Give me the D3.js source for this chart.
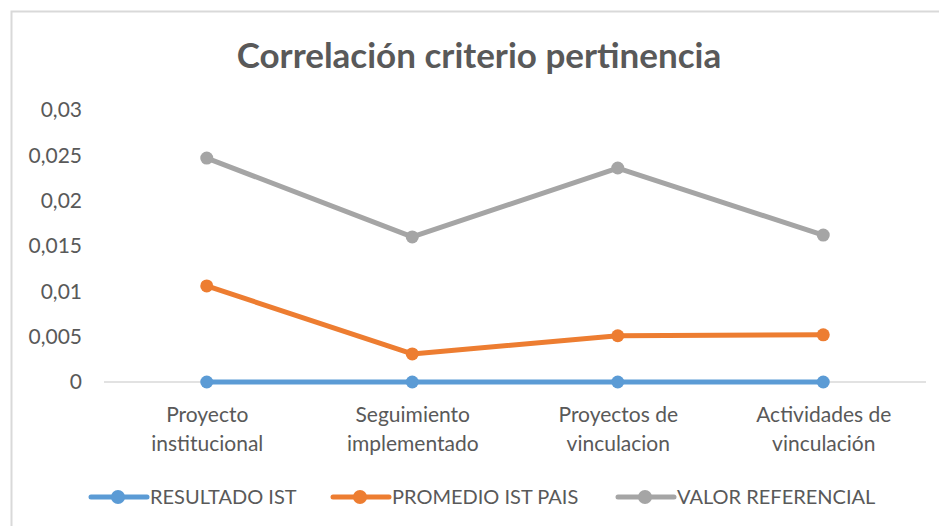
<!DOCTYPE html>
<html>
<head>
<meta charset="utf-8">
<script src="https://cdn.jsdelivr.net/npm/d3@7"></script>
<style>
 body{margin:0;background:#fff}
 text{font-family:Lato,"Open Sans",sans-serif;fill:#595959}
</style>
</head>
<body>
<div id="chart"></div>
<script>
const categories = [["Proyecto","institucional"],["Seguimiento","implementado"],["Proyectos de","vinculacion"],["Actividades de","vinculación"]]
const resultadoIst = [0,0,0,0]
const promedioIstPais = [0.0106,0.0031,0.0051,0.0052]
const valorReferencial = [0.0247,0.0160,0.0236,0.0162]
const yTicks = [0,0.005,0.01,0.015,0.02,0.025,0.03]
const seriesNames = ["RESULTADO IST","PROMEDIO IST PAIS","VALOR REFERENCIAL"]
const colors = ["#5b9bd5","#ed7d31","#a5a5a5"]

const render = () => {
 let size = {width:939,height:526}
 let margin = {top:110,right:13,left:104,bottom:144}
 let innerW = size.width - margin.left - margin.right
 let innerH = size.height - margin.top - margin.bottom

 const svg = d3.select("#chart").append("svg").attr("width",size.width).attr("height",size.height)

 // chart border (only top and left are inside the picture)
 svg.append("rect").attr("x",11.5).attr("y",11.5).attr("width",size.width+20).attr("height",size.height+20)
   .attr("fill","none").attr("stroke","#d9d9d9").attr("stroke-width",2)

 svg.append("text").attr("x",479).attr("y",68).attr("text-anchor","middle")
   .style("font-size","35px").style("font-weight","bold").text("Correlación criterio pertinencia")

 const xScale = d3.scalePoint().domain(categories.map((c,i)=>i)).range([0,innerW]).padding(0.5)
 const yScale = d3.scaleLinear().domain([0,0.03]).range([innerH,0])

 let g = svg.append("g").attr("transform",`translate(${margin.left},${margin.top})`)

 const yAxis = d3.axisLeft(yScale).tickValues(yTicks).tickSize(0).tickPadding(22)
   .tickFormat(d => d3.format("")(+d.toFixed(3)).replace(".",","))
 let yGroup = g.append("g").call(yAxis)
 yGroup.select(".domain").remove()
 yGroup.selectAll("text").style("font-size","21px").style("font-family","Lato").attr("fill","#595959")

 // zero line
 g.append("line").attr("x1",0).attr("x2",innerW).attr("y1",yScale(0)).attr("y2",yScale(0))
   .attr("stroke","#d9d9d9").attr("stroke-width",1.5)

 const xAxis = d3.axisBottom(xScale).tickSize(0).tickFormat("")
 let xGroup = g.append("g").attr("transform",`translate(0,${innerH})`).call(xAxis)
 xGroup.select(".domain").remove()
 xGroup.selectAll(".tick").each(function(d){
   let t = d3.select(this).append("text").attr("text-anchor","middle").style("font-size","21px").style("font-family","Lato")
   categories[d].forEach((line,k)=>{
     t.append("tspan").attr("x",0).attr("y",40+k*29).text(line)
   })
 })

 const allSeries = [resultadoIst,promedioIstPais,valorReferencial]
 const line = d3.line().x((d,i)=>xScale(i)).y(d=>yScale(d))
 // draw gray first so blue sits on top like the original
 ;[2,1,0].forEach(s => {
   g.append("path").datum(allSeries[s]).attr("d",line).attr("fill","none")
     .attr("stroke",colors[s]).attr("stroke-width",5).attr("stroke-linejoin","round")
   g.selectAll(".m"+s).data(allSeries[s]).enter().append("circle")
     .attr("cx",(d,i)=>xScale(i)).attr("cy",d=>yScale(d)).attr("r",6.5).attr("fill",colors[s])
 })

 // legend
 const legendX = [91,333,618]
 let lg = svg.append("g").attr("transform","translate(0,497)")
 seriesNames.forEach((name,i)=>{
   let item = lg.append("g").attr("transform",`translate(${legendX[i]},0)`)
   item.append("line").attr("x1",0).attr("x2",56).attr("stroke",colors[i]).attr("stroke-width",5).attr("stroke-linecap","round")
   item.append("circle").attr("cx",27).attr("r",7).attr("fill",colors[i])
   item.append("text").attr("x",59).attr("y",7).style("font-size","20px").text(name)
 })
}
render()
</script>
</body>
</html>
